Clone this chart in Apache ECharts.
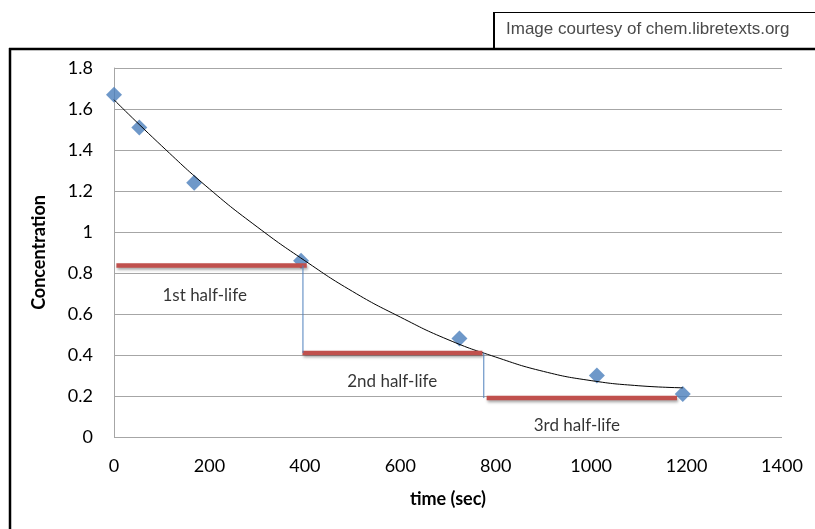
<!DOCTYPE html>
<html>
<head>
<meta charset="utf-8">
<script src="https://cdn.jsdelivr.net/npm/echarts@6/dist/echarts.min.js"></script>
<style>
  html, body { margin: 0; padding: 0; background: #ffffff; }
  #chart { width: 815px; height: 529px; }
</style>
</head>
<body>
<div id="chart"></div>
<script>
// ---- data ----
const times = [0, 53, 168, 392, 724, 1012, 1192];
const concentrations = [1.67, 1.51, 1.24, 0.86, 0.48, 0.30, 0.21];

// trendline
const trendTimes = [0, 100, 200, 300, 400, 500, 600, 700, 800, 900, 1000, 1100, 1192];
const trendValues = [1.645, 1.42, 1.21, 1.025, 0.86, 0.71, 0.585, 0.475, 0.39, 0.32, 0.275, 0.25, 0.24];

// half-life horizontal bars: [startTime, endTime, level]
const halfLifeStart = [5, 395, 781];
const halfLifeEnd = [404, 772, 1180];
const halfLifeLevel = [0.837, 0.41, 0.19];
// vertical drops
const dropTimes = [396, 775];
const dropTop = [0.837, 0.41];
const dropBottom = [0.41, 0.19];
// labels
const halfLifeNames = ['1st half-life', '2nd half-life', '3rd half-life'];
const labelTimes = [190, 583, 970];
const labelLevels = [0.69, 0.27, 0.058];

const yTickLabels = ['0', '0.2', '0.4', '0.6', '0.8', '1', '1.2', '1.4', '1.6', '1.8'];
const xTickLabels = ['0', '200', '400', '600', '800', '1000', '1200', '1400'];

const xTitle = 'time (sec)';
const yTitle = 'Concentration';
const caption = 'Image courtesy of chem.libretexts.org';

// ---- build chart ----
const chart = echarts.init(document.getElementById('chart'));
const FONT = 'Lato';

const series = [];
series.push({
  type: 'scatter',
  data: times.map((t, i) => [t, concentrations[i]]),
  symbol: 'diamond',
  symbolSize: 16,
  itemStyle: { color: '#4a7ebb' },
  z: 2,
  silent: true
});
series.push({
  type: 'line',
  data: trendTimes.map((t, i) => [t, trendValues[i]]),
  smooth: true,
  showSymbol: false,
  lineStyle: { color: '#000000', width: 1 },
  z: 3,
  silent: true
});
halfLifeStart.forEach((s, i) => {
  series.push({
    type: 'line',
    data: [[s, halfLifeLevel[i]], [halfLifeEnd[i], halfLifeLevel[i]]],
    showSymbol: false,
    lineStyle: {
      color: '#c0504d', width: 4.5,
      shadowColor: 'rgba(0,0,0,0.35)', shadowBlur: 3, shadowOffsetX: 1, shadowOffsetY: 2
    },
    z: 4,
    silent: true
  });
});
dropTimes.forEach((t, i) => {
  series.push({
    type: 'line',
    data: [[t, dropTop[i]], [t, dropBottom[i]]],
    showSymbol: false,
    lineStyle: { color: '#4f81bd', width: 1 },
    z: 4,
    silent: true
  });
});
series.push({
  type: 'scatter',
  data: labelTimes.map((t, i) => ({ value: [t, labelLevels[i]], name: halfLifeNames[i] })),
  symbolSize: 0,
  label: {
    show: true, position: 'inside', formatter: p => p.name,
    fontFamily: FONT, fontSize: 17, color: '#000000'
  },
  z: 5,
  silent: true
});

chart.setOption({
  animation: false,
  backgroundColor: '#ffffff',
  grid: { left: 114, right: 33, top: 68, bottom: 92, containLabel: false },
  xAxis: {
    type: 'value', min: 0, max: 1400, interval: 200,
    name: xTitle, nameLocation: 'middle', nameGap: 53,
    nameTextStyle: { fontFamily: FONT, fontWeight: 'bold', fontSize: 18, color: '#000' },
    axisLine: { show: false },
    axisTick: { show: false },
    axisLabel: {
      fontFamily: FONT, fontSize: 18, color: '#000', margin: 20,
      formatter: (v) => xTickLabels[Math.round(v / 200)]
    },
    splitLine: { show: false }
  },
  yAxis: {
    type: 'value', min: 0, max: 1.8, interval: 0.2,
    name: yTitle, nameLocation: 'middle', nameGap: 66,
    nameTextStyle: { fontFamily: FONT, fontWeight: 'bold', fontSize: 18, color: '#000' },
    axisLine: { show: true, lineStyle: { color: '#a6a6a6', width: 1 } },
    axisTick: { show: false },
    axisLabel: {
      fontFamily: FONT, fontSize: 18, color: '#000', margin: 21,
      formatter: (v) => yTickLabels[Math.round(v / 0.2)]
    },
    splitLine: { show: true, lineStyle: { color: '#a6a6a6', width: 1 } }
  },
  graphic: [
    { type: 'line', shape: { x1: 9, y1: 49, x2: 815, y2: 49 }, style: { stroke: '#000', lineWidth: 2.5 } },
    { type: 'line', shape: { x1: 10, y1: 48, x2: 10, y2: 529 }, style: { stroke: '#000', lineWidth: 2.5 } },
    { type: 'line', shape: { x1: 494, y1: 12, x2: 494, y2: 49 }, style: { stroke: '#000', lineWidth: 2 } },
    { type: 'line', shape: { x1: 494, y1: 12.5, x2: 815, y2: 12.5 }, style: { stroke: '#000', lineWidth: 1 } },
    { type: 'text', left: 506, top: 21,
      style: { text: caption, fontFamily: 'Liberation Sans', fontSize: 17, fill: '#4a4a4a' } }
  ],
  series: series
});
</script>
</body>
</html>
